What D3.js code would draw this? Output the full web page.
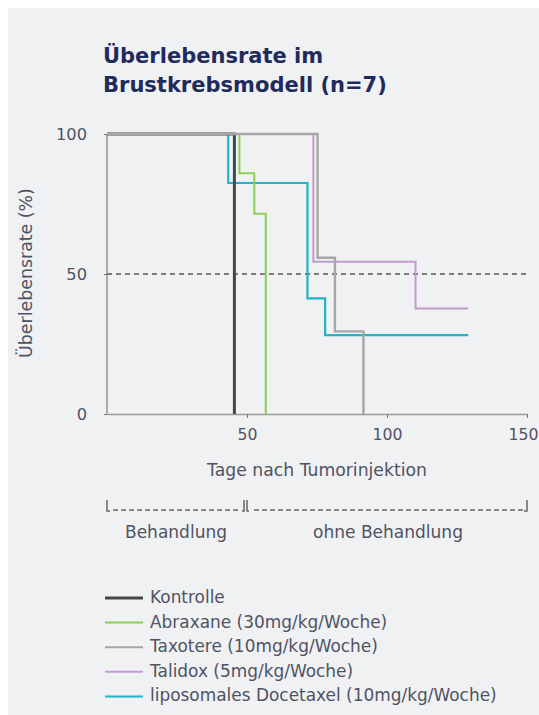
<!DOCTYPE html>
<html><head><meta charset="utf-8">
<script src="https://cdn.jsdelivr.net/npm/d3@7"></script>
<style>
html,body{margin:0;padding:0;background:#fff;}
svg{display:block;}
</style></head>
<body>
<script>
// ---- data ----
const seriesNames = ["Kontrolle","Abraxane (30mg/kg/Woche)","Taxotere (10mg/kg/Woche)","Talidox (5mg/kg/Woche)","liposomales Docetaxel (10mg/kg/Woche)"];
const kontrolleDays = [0, 45.5];
const kontrolleSurv = [100, 0];
const abraxaneDays = [0, 47.3, 52.6, 56.7];
const abraxaneSurv = [100, 86, 71.5, 0];
const taxotereDays = [0, 75.2, 81.4, 91.6];
const taxotereSurv = [100, 55.8, 29.5, 0];
const talidoxDays = [0, 73.7, 110.2, 129];
const talidoxSurv = [100, 54.4, 37.7, 37.7];
const docetaxelDays = [0, 43.3, 71.6, 77.9, 129];
const docetaxelSurv = [100, 82.5, 41.3, 28.2, 28.2];
const xTicks = [50, 100, 150];
const yTicks = [0, 50, 100];
const titleLines = ["Überlebensrate im", "Brustkrebsmodell (n=7)"];
const phaseLabels = ["Behandlung", "ohne Behandlung"];
const phaseBounds = [0, 50, 150];

const W = 539, H = 715;
const svg = d3.select("body").append("svg").attr("width", W).attr("height", H);
svg.append("rect").attr("x", 8).attr("y", 8).attr("width", W - 8).attr("height", H - 8).attr("fill", "#f0f1f3");

const x = d3.scaleLinear().domain([0, 150]).range([107, 527]);
const y = d3.scaleLinear().domain([0, 100]).range([414, 134]);
const textCol = "#4f5363";
const font = "'DejaVu Sans', sans-serif";

// scale font-size of a selection so its widest text reaches targetWidth
function fit(sel, target) {
  let maxW = 0;
  sel.each(function () { maxW = Math.max(maxW, this.getComputedTextLength()); });
  const fs = parseFloat(sel.attr("font-size"));
  sel.attr("font-size", fs * target / maxW);
}

// title
const tt = svg.append("g").selectAll("text").data(titleLines).join("text")
  .attr("x", 103).attr("y", (d, i) => 63 + i * 29)
  .attr("font-family", font).attr("font-weight", 700).attr("font-size", 18)
  .attr("fill", "#1f2b5b").text(d => d);
fit(tt, 284);

// axes
const axCol = "#9a9a9a";
svg.append("line").attr("x1", x(0)).attr("x2", x(0)).attr("y1", y(100)).attr("y2", y(0)).attr("stroke", axCol).attr("stroke-width", 1.6);
const xa = svg.append("g").attr("transform", `translate(0,${y(0)})`)
  .call(d3.axisBottom(x).tickValues(xTicks).tickSize(4).tickSizeOuter(0).tickPadding(11));
xa.select(".domain").attr("stroke", axCol).attr("stroke-width", 1.6);
xa.selectAll(".tick line").attr("stroke", "#777");
const xt = xa.selectAll("text").attr("font-family", font).attr("font-size", 14).attr("fill", textCol);
fit(xt, 30);
xt.filter(d => d === 150).attr("dx", -4);
const ya = svg.append("g").attr("transform", `translate(${x(0)},0)`)
  .call(d3.axisLeft(y).tickValues(yTicks).tickSize(3).tickSizeOuter(0).tickPadding(17));
ya.select(".domain").remove();
ya.selectAll(".tick line").attr("stroke", "#777");
const yt = ya.selectAll("text").attr("font-family", font).attr("font-size", 14).attr("fill", textCol);
fit(yt, 31);

const yl = svg.append("text").attr("transform", `translate(32,273) rotate(-90)`).attr("text-anchor", "middle")
  .attr("font-family", font).attr("font-size", 12.5).attr("fill", textCol).text("Überlebensrate (%)");
fit(yl, 170);
const xl = svg.append("text").attr("x", 317).attr("y", 476).attr("text-anchor", "middle")
  .attr("font-family", font).attr("font-size", 14).attr("fill", textCol).text("Tage nach Tumorinjektion");
fit(xl, 220);

// 50% dashed line
svg.append("line").attr("x1", x(0)).attr("x2", x(150)).attr("y1", y(50)).attr("y2", y(50))
  .attr("stroke", "#555").attr("stroke-width", 1.3).attr("stroke-dasharray", "5,4");

// curves
const colors = ["#474747", "#8ccf55", "#a6a6a6", "#c39ad0", "#1fb4c6"];
const widths = [3, 2, 2.4, 2, 2.2];
const seriesData = [
  d3.zip(kontrolleDays, kontrolleSurv),
  d3.zip(abraxaneDays, abraxaneSurv),
  d3.zip(taxotereDays, taxotereSurv),
  d3.zip(talidoxDays, talidoxSurv),
  d3.zip(docetaxelDays, docetaxelSurv)
];
const line = d3.line().x(d => x(d[0])).y(d => y(d[1])).curve(d3.curveStepAfter);
const order = [4, 1, 0, 3, 2];
svg.append("g").selectAll("path").data(order).join("path")
  .attr("d", i => line(seriesData[i])).attr("fill", "none")
  .attr("stroke", i => colors[i]).attr("stroke-width", i => widths[i]);

// treatment bar
const by = 510;
const bar = svg.append("g").attr("stroke", "#666").attr("fill", "none");
bar.append("line").attr("x1", x(phaseBounds[0]) + 6).attr("x2", x(phaseBounds[1]) - 7).attr("y1", by).attr("y2", by)
  .attr("stroke-width", 1.5).attr("stroke-dasharray", "5,3");
bar.append("line").attr("x1", x(phaseBounds[1]) + 7).attr("x2", x(phaseBounds[2]) - 4).attr("y1", by).attr("y2", by)
  .attr("stroke-width", 1.5).attr("stroke-dasharray", "5,3");
bar.append("path").attr("d", `M${x(0)},500 V${by + 1} H${x(0) + 3}`).attr("stroke-width", 1.5);
bar.append("path").attr("d", `M${x(50) - 3},500 V${by + 1} H${x(50) - 5} M${x(50)},500 V${by + 1} H${x(50) + 2}`).attr("stroke-width", 1.5);
bar.append("path").attr("d", `M${x(150)},500 V${by + 1} H${x(150) - 3}`).attr("stroke-width", 1.5);
const pl = svg.append("g").selectAll("text").data(phaseLabels).join("text")
  .attr("x", (d, i) => i === 0 ? 176 : 388).attr("y", 538).attr("text-anchor", "middle")
  .attr("font-family", font).attr("font-size", 14).attr("fill", textCol).text(d => d);
fit(pl, 150);

// legend
const lg = svg.append("g").selectAll("g").data(seriesNames).join("g")
  .attr("transform", (d, i) => `translate(105,${598 + i * 24.6})`);
lg.append("line").attr("x1", 0).attr("x2", 38).attr("y1", 0).attr("y2", 0)
  .attr("stroke", (d, i) => colors[i]).attr("stroke-width", (d, i) => i === 0 ? 3 : 2);
const lt = lg.append("text").attr("x", 45).attr("y", 5).attr("font-family", font).attr("font-size", 14)
  .attr("fill", textCol).text(d => d);
fit(lt, 347);
</script>
</body></html>
